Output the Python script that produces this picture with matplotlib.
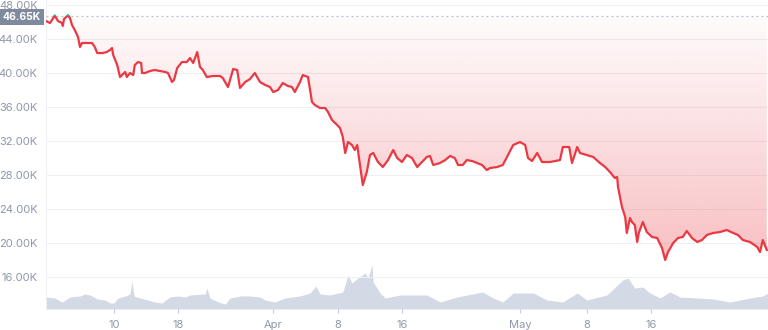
import numpy as np
import matplotlib
matplotlib.use("Agg")
import matplotlib.pyplot as plt

plt.rcParams['font.family'] = ['Inter', 'DejaVu Sans']

# price (K USD) by day index
days = [0.0, 0.5, 1.1, 1.5, 2.0, 2.1, 2.25, 2.75, 3.0, 3.25, 3.6, 4.0, 4.25, 4.5, 5.75, 6.1, 6.4, 7.1,
        7.6, 8.0, 8.25, 8.4, 8.9, 9.25, 9.9, 10.1, 10.5, 10.9, 11.1, 11.5, 11.9, 12.0, 12.4, 13.0,
        13.6, 14.25, 14.9, 15.25, 15.75, 16.0, 16.4, 17.0, 17.6, 18.0, 18.4, 18.9, 19.25, 19.6,
        20.1, 20.9, 21.75, 22.1, 22.75, 23.25, 23.4, 23.9, 24.25, 24.9, 25.5, 26.1, 26.75, 27.4,
        28.0, 28.4, 29.0, 29.6, 30.25, 30.75, 31.1, 31.75, 32.1, 32.75, 33.25, 33.6, 34.25, 34.9,
        35.25, 35.75, 36.4, 36.75, 37.1, 37.4, 37.75, 38.25, 38.6, 38.9, 39.25, 39.6, 40.1, 40.5,
        40.9, 41.5, 42.1, 42.75, 43.4, 43.9, 44.5, 45.1, 45.75, 46.4, 47.0, 47.6, 48.0, 48.4,
        49.25, 49.9, 50.5, 51.1, 51.5, 52.1, 52.6, 53.25, 53.9, 54.5, 55.1, 55.5, 56.4, 57.1,
        57.75, 58.4, 59.25, 59.9, 60.25, 60.75, 61.4, 62.0, 63.0, 64.25, 64.6, 65.4, 65.75, 66.4,
        66.75, 67.6, 68.4, 69.25, 69.9, 70.5, 71.1, 71.4, 71.5, 72.0, 72.4, 72.6, 73.0, 73.25,
        73.6, 73.9, 74.1, 74.6, 75.1, 75.75, 76.4, 77.0, 77.4, 77.75, 78.4, 79.0, 79.6, 80.1,
        80.75, 81.4, 82.0, 82.6, 83.4, 84.25, 85.1, 85.9, 86.5, 87.1, 88.0, 88.9, 89.25, 89.6, 90.1]
price = [46.12, 45.88, 46.75, 46.12, 45.88, 45.53, 46.35, 46.78, 46.47, 45.65, 45.06, 44.24, 43.06,
         43.53, 43.53, 43.06, 42.35, 42.35, 42.47, 42.71, 42.94, 42.12, 40.94, 39.53, 40.12, 39.53,
         40.0, 39.76, 40.94, 41.29, 41.18, 40.0, 40.0, 40.24, 40.35, 40.24, 40.12, 40.0, 38.94,
         39.18, 40.59, 41.29, 41.29, 41.76, 41.18, 42.47, 40.71, 40.35, 39.53, 39.65, 39.65, 39.41,
         38.35, 40.0, 40.47, 40.35, 38.24, 38.94, 39.29, 40.0, 38.94, 38.59, 38.35, 37.76, 38.0,
         38.82, 38.47, 38.35, 37.76, 38.94, 39.76, 39.53, 36.59, 36.24, 35.88, 35.88, 35.41, 34.47,
         33.88, 33.53, 32.47, 30.59, 31.88, 31.53, 30.94, 31.53, 29.18, 26.82, 28.35, 30.35, 30.59,
         29.53, 28.94, 29.76, 30.94, 30.0, 29.53, 30.35, 30.0, 28.94, 29.53, 30.12, 30.24, 29.18,
         29.41, 29.76, 30.24, 30.0, 29.18, 29.18, 29.76, 29.65, 29.41, 29.18, 28.59, 28.82, 28.94,
         29.18, 30.35, 31.53, 31.88, 31.53, 30.0, 29.65, 30.59, 29.53, 29.53, 29.76, 31.29, 31.29,
         29.41, 31.29, 30.59, 30.35, 30.12, 29.41, 28.94, 28.35, 27.65, 27.76, 26.59, 24.24, 23.06,
         21.18, 22.94, 22.47, 22.12, 20.12, 21.18, 22.47, 21.29, 20.71, 20.59, 19.41, 18.0, 18.94,
         20.0, 20.59, 20.71, 21.41, 20.59, 20.12, 20.35, 20.94, 21.18, 21.29, 21.53, 21.18, 20.94,
         20.35, 20.12, 19.53, 18.94, 20.35, 19.18]

# volume ($B) by day index
vol_days = [0.0, 1.1, 2.0, 3.0, 4.25, 4.9, 5.5, 6.4, 7.4, 8.0, 8.5, 9.0, 9.9, 10.5, 10.75, 11.0,
            11.75, 12.75, 13.6, 14.5, 15.5, 16.5, 17.4, 18.0, 19.9, 20.1, 20.5, 21.5, 22.4, 23.0,
            24.25, 25.5, 26.75, 27.4, 28.6, 29.9, 31.75, 33.0, 33.75, 34.25, 35.5, 37.1, 37.75,
            38.25, 39.0, 39.9, 40.25, 40.75, 40.9, 41.75, 42.4, 44.25, 47.6, 49.25, 51.4, 54.6,
            55.9, 57.1, 58.4, 60.9, 62.6, 64.6, 66.4, 67.6, 70.1, 72.1, 72.75, 73.6, 74.6, 75.5,
            76.75, 78.0, 79.25, 81.4, 83.4, 85.5, 88.0, 89.6, 90.25]
volume = [30, 27.5, 17.5, 30, 32.5, 37.5, 35, 25, 22.5, 15, 15, 27.5, 32.5, 37.5, 70, 32.5,
          27.5, 22.5, 17.5, 15, 30, 32.5, 30, 35, 37.5, 52.5, 27.5, 17.5, 12.5, 27.5,
          32.5, 32.5, 30, 22.5, 17.5, 27.5, 32.5, 40, 57.5, 37.5, 35, 42.5, 85,
          65, 77.5, 90, 77.5, 110, 67.5, 40, 27.5, 35, 35, 17.5, 30, 42.5,
          27.5, 17.5, 40, 40, 22.5, 17.5, 40, 22.5, 35, 72.5, 77.5, 52.5, 55, 40,
          27.5, 42.5, 30, 27.5, 25, 17.5, 27.5, 32.5, 40]

base_price = 46.65
y_ticks = [16, 20, 24, 28, 32, 36, 40, 44, 48]
x_tick_pos = [8.5, 16.5, 28.4, 36.5, 44.5, 59.25, 67.6, 75.6]
x_tick_labels = ['10', '18', 'Apr', '8', '16', 'May', '8', '16']

RED = '#ea3943'
GREEN = '#16c784'
GRAY_TXT = '#8f97aa'

fig = plt.figure(figsize=(7.68, 3.30), dpi=100)
ax = fig.add_axes([46 / 768, 21 / 330, 1 - 46 / 768, 1 - 21 / 330])
ax.set_xlim(0, 90.25)
ax.set_ylim(12.235, 48.59)

# volume on its own scale
axv = ax.twinx()
axv.set_ylim(0, 772.5)
axv.fill_between(vol_days, volume, 0, color='#d3d9e5', lw=0, zorder=1)
axv.axis('off')
ax.set_zorder(axv.get_zorder() + 1)
ax.patch.set_visible(False)

# gridlines
for t in y_ticks:
    ax.axhline(t, color='#eef0f4', lw=0.8, zorder=0)

# gradient fill between price and base line
poly = ax.fill_between(days, price, base_price, where=np.array(price) <= base_price + 0.2,
                       interpolate=True, color='none', lw=0)
grad = np.zeros((256, 2, 4))
r, g, b = matplotlib.colors.to_rgb(RED)
grad[..., 0], grad[..., 1], grad[..., 2] = r, g, b
alpha = np.linspace(0.38, 0.02, 256)
grad[..., 3] = alpha[:, None]
img = ax.imshow(grad, extent=[0, 90.25, 12.235, base_price], origin='lower',
                aspect='auto', zorder=2, interpolation='bilinear')
clip = matplotlib.path.Path.make_compound_path(*poly.get_paths())
img.set_clip_path(clip, ax.transData)
ax.set_xlim(0, 90.25)
ax.set_ylim(12.235, 48.59)

# base line
ax.axhline(base_price, color='#b8bfcc', lw=0.9, ls=(0, (1.5, 2.5)), zorder=3)

# price line, red below base and green above
ax.plot(days, price, color=RED, lw=1.6, zorder=4, solid_joinstyle='round')
gl, = ax.plot(days, price, color=GREEN, lw=1.6, zorder=5, solid_joinstyle='round')
rect = matplotlib.patches.Rectangle((0, base_price), 100, 10, transform=ax.transData)
gl.set_clip_path(rect)

ax.set_yticks(y_ticks)
ax.set_yticklabels(['%.2fK' % t for t in y_ticks])
ax.set_xticks(x_tick_pos)
ax.set_xticklabels(x_tick_labels)
ax.tick_params(axis='y', length=0, pad=6, labelsize=8, labelcolor=GRAY_TXT)
ax.tick_params(axis='x', length=3, width=0.8, color='#c8ccd6', pad=5,
               labelsize=8, labelcolor=GRAY_TXT)
for s in ['top', 'right', 'bottom']:
    ax.spines[s].set_visible(False)
ax.spines['left'].set_color('#eef0f4')
ax.spines['left'].set_linewidth(0.8)

# current/base value label
fig.text(22 / 768, 1 - 17 / 330, '46.65K', ha='center', va='center', fontsize=7.5,
         color='white', fontweight='bold',
         bbox=dict(boxstyle='square,pad=0.25', fc='#808a9d', ec='none'))

fig.savefig('out.png', dpi=100)
